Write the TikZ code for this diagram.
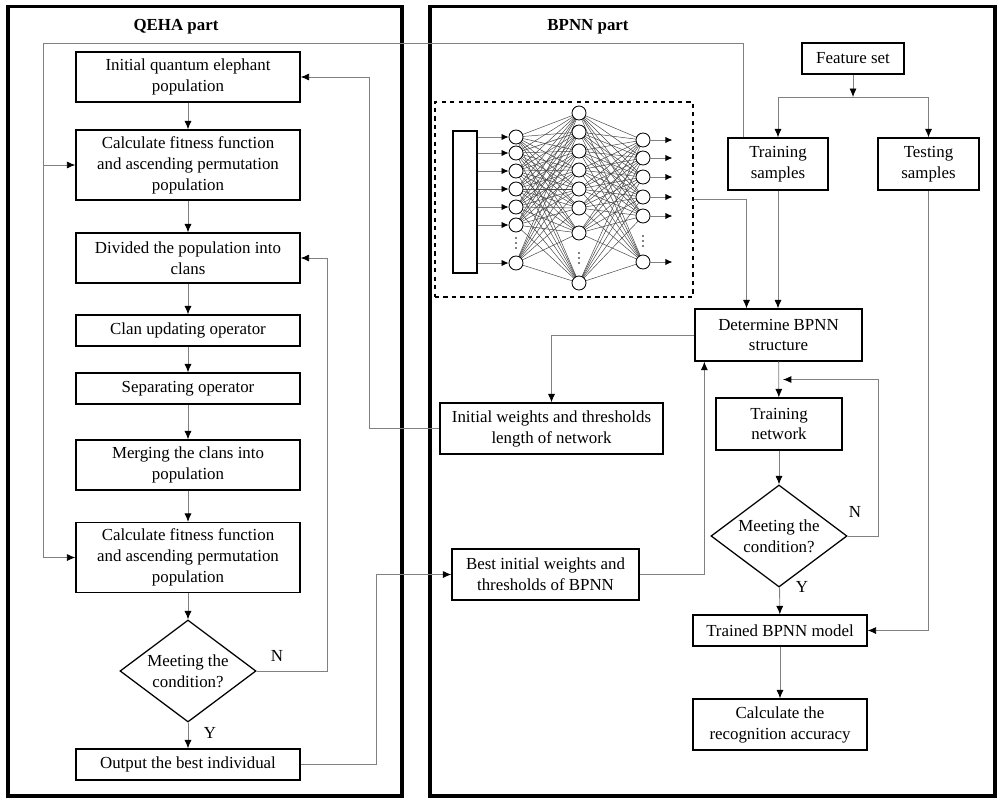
\documentclass[tikz,border=0pt]{standalone}
\usepackage{fontspec}
\setmainfont{Liberation Serif}
\usetikzlibrary{arrows.meta,shapes.geometric,positioning,calc}
\definecolor{linkgray}{RGB}{128,128,128}
\definecolor{wiregray}{RGB}{70,70,70}

\begin{document}
\begin{tikzpicture}[x=0.025cm,y=-0.025cm,
  every node/.style={font=\fontsize{12}{14.9}\selectfont},
  frame/.style={draw,line width=2.2pt},
  box/.style={draw,line width=0.9pt,minimum width=5.6cm,minimum height=1.25cm,
              align=center,inner sep=2pt},
  slim/.style={box,minimum height=0.775cm},
  tall/.style={box,minimum height=1.75cm},
  cond/.style={draw,diamond,line width=0.9pt,aspect=1.33,inner sep=0pt,
               minimum width=3.4cm,minimum height=2.55cm,align=center},
  title/.style={font=\fontsize{12}{14.9}\selectfont\bfseries},
  line/.style={draw=linkgray,line width=0.6pt},
  arrow/.style={line,-{Latex[length=6pt,width=5pt,color=black]}},
  nnarrow/.style={line,-{Latex[length=5pt,width=4.5pt,color=black]}},
  neuron/.style={circle,draw,line width=0.6pt,minimum size=0.35cm,inner sep=0pt,fill=white},
  wire/.style={draw=wiregray,line width=0.35pt}]
\useasboundingbox (0,0) rectangle (1003,803);
\draw[frame] (8,6.5) rectangle (402,796);
\draw[frame] (430,6.5) rectangle (995,796);
\node[title](qt) at (176,27) {QEHA part};
\node[title](bt) at (588,27) {BPNN part};
\node[box](init) at (188,77)    {Initial quantum elephant\\population};
\node[tall](fit1) at (188,165)  {Calculate fitness function\\and ascending permutation\\population};
\node[box](div)  at (188,258)   {Divided the population into\\clans};
\node[slim](clan) at (188,330.5) {Clan updating operator};
\node[slim](sep) at (188,388.5) {Separating operator};
\node[box](mrg)  at (188,465)   {Merging the clans into\\population};
\node[tall](fit2) at (188,557.5) {Calculate fitness function\\and ascending permutation\\population};
\node[cond](dm1) at (188,671)   {Meeting the\\condition?};
\node[slim](out) at (188,764.5) {Output the best individual};
\node[box,minimum width=2.55cm,minimum height=0.775cm](fs) at (853,58.5) {Feature set};
\node[box,minimum width=2.5cm,minimum height=1.3cm](trs) at (778,164) {Training\\samples};
\node[box,minimum width=2.525cm,minimum height=1.3cm](tst) at (928.5,164) {Testing\\samples};
\node[box,minimum width=4.175cm,minimum height=1.3cm](det) at (778.5,335) {Determine BPNN\\structure};
\node[box,minimum width=3.15cm,minimum height=1.3cm](trn) at (779,424) {Training\\network};
\node[cond](dm2) at (779,536) {Meeting the\\condition?};
\node[slim,minimum width=4.35cm](trm) at (780,630.5) {Trained BPNN model};
\node[box,minimum width=4.35cm,minimum height=1.275cm](acc) at (780,724.5) {Calculate the\\recognition accuracy};
\node[box,minimum width=5.575cm,minimum height=1.275cm](iw) at (551.5,428.5) {Initial weights and thresholds\\length of network};
\node[box,minimum width=4.675cm,minimum height=1.275cm](bw) at (545.5,574.5) {Best initial weights and\\thresholds of BPNN};
\node[draw,dashed,line width=0.9pt,minimum width=6.45cm,minimum height=4.875cm](nn) at (564,199.5) {};
\node[draw,line width=0.9pt,minimum width=0.6cm,minimum height=3.55cm](inp) at (465,202) {};
\foreach \y [count=\n] in {137,153,171,189,207,225,263}
  \coordinate (i\n) at (516,\y);
\foreach \y [count=\n] in {113,132,151,170,189,208,233,283}
  \coordinate (h\n) at (579,\y);
\foreach \y [count=\n] in {140,158,177,197,216,262}
  \coordinate (o\n) at (643,\y);
\foreach \a in {1,...,7}
  \foreach \b in {1,...,8}
    \draw[wire] (i\a) -- (h\b);
\foreach \b in {1,...,8}
  \foreach \c in {1,...,6}
    \draw[wire] (h\b) -- (o\c);
\foreach \n in {1,...,7}{
  \node[neuron](ni\n) at (i\n) {};
  \draw[nnarrow] (inp.east |- ni\n) -- (ni\n.west);}
\foreach \n in {1,...,8}
  \node[neuron](nh\n) at (h\n) {};
\foreach \n in {1,...,6}{
  \node[neuron](no\n) at (o\n) {};
  \draw[nnarrow] (no\n.east) -- ++(22,0);}
\foreach \x/\y in {516/243,579/258,643/241}
  \foreach \k in {-5,0,5}
    \fill (\x,\y+\k) circle (0.55pt);
\draw[arrow](init)--(fit1);
\draw[arrow](fit1)--(div);
\draw[arrow](div)--(clan);
\draw[arrow](clan)--(sep);
\draw[arrow](sep)--(mrg);
\draw[arrow](mrg)--(fit2);
\draw[arrow](fit2)--(dm1);
\draw[arrow](dm1)--(out);
\draw[arrow](dm1.east) -- ++(71,0) |- (div.east);
\draw[arrow](iw.west) -- ++(-70,0) |- (init.east);
\coordinate (lt) at (43,43);
\draw[arrow]([xshift=-0.875cm]trs.north) |- (lt) |- (fit2.west);
\draw[arrow](lt |- fit1.west) -- (fit1.west);
\draw[arrow](out.east) -- ++(76,0) |- (bw.west);
\draw[arrow](bw.east) -| ([xshift=0.25cm]det.south west);
\draw[arrow](det.west) -| (iw.north);
\coordinate (split) at (853,97);
\draw[arrow](fs) -- (split);
\draw[arrow](split) -| (trs.north);
\draw[arrow](split) -| (tst.north);
\draw[arrow](trs) -- (trs |- det.north);
\draw[arrow](nn.east) -| ([xshift=-0.8cm]det.north);
\draw[arrow](det) -- (trn);
\coordinate (mid) at ($(det.south)!0.5!(trn.north)$);
\draw[arrow](trn) -- (dm2);
\draw[arrow](dm2) -- (trm);
\draw[arrow](dm2.east) -- ++(31,0) |- ([xshift=3pt]mid);
\draw[arrow](tst.south) |- (trm.east);
\draw[arrow](trm) -- (acc);
\node(n1) at (277,656) {N};
\node(y1) at (210,733) {Y};
\node(n2) at (855,512) {N};
\node(y2) at (802,587) {Y};
\end{tikzpicture}
\end{document}
